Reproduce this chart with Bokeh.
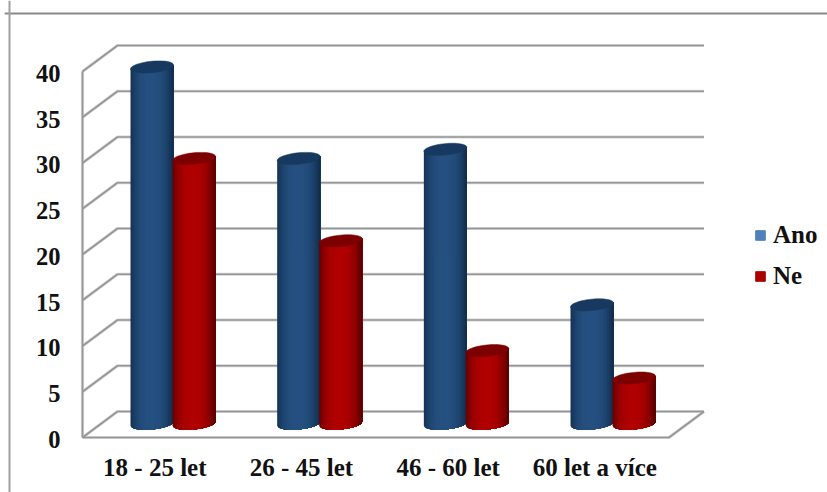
import numpy as np
from bokeh.plotting import figure
from bokeh.models import Range1d, FixedTicker, Span, Legend, LegendItem, ColumnDataSource
from bokeh.embed import file_html
from bokeh.resources import INLINE

# --- data
categories = ["18 - 25 let", "26 - 45 let", "46 - 60 let", "60 let a více"]
ano = [39, 29, 30, 13]
ne = [29, 20, 8, 5]
y_ticks = [0, 5, 10, 15, 20, 25, 30, 35, 40]

# --- layout: scale factors of the two axes
W, H = 827, 492
BL, BB = 4, 0
PX_X = 146.67       # pixels per category
PX_Y = 9.15         # pixels per value unit
x0 = -(172.5 - BL) / PX_X
y_bottom = -(H - BB - 437) / PX_Y
y_top = y_bottom + (H - BB) / PX_Y
x_end = x0 + (W - BL) / PX_X

FONT = "Liberation Serif"
p = figure(width=W, height=H, output_backend="svg", toolbar_location=None,
           x_range=Range1d(x0, x_end), y_range=Range1d(y_bottom, y_top),
           min_border_left=BL, min_border_right=0, min_border_top=0, min_border_bottom=BB,
           outline_line_color=None, background_fill_color="white", border_fill_color="white")
p.grid.visible = False

for ax in (p.xaxis[0], p.yaxis[0]):
    ax.axis_line_color = None
    ax.major_tick_line_color = None
    ax.minor_tick_line_color = None
    ax.major_tick_out = 0
    ax.major_tick_in = 0
    ax.minor_tick_out = 0
    ax.minor_tick_in = 0
    ax.major_label_text_font = FONT
    ax.major_label_text_font_style = "bold"
    ax.major_label_text_color = "#111111"

Y_LABEL_SHIFT = -0.2
y_label_ticks = [v + Y_LABEL_SHIFT for v in y_ticks]
p.yaxis[0].ticker = FixedTicker(ticks=y_label_ticks)
p.yaxis[0].major_label_overrides = {t: str(v) for t, v in zip(y_label_ticks, y_ticks)}
p.yaxis[0].major_label_text_font_size = "24.5px"
p.yaxis[0].major_label_standoff = BL - 60
X_LABEL_SHIFT = -0.124
x_ticks = [i + X_LABEL_SHIFT for i in range(len(categories))]
p.xaxis[0].ticker = FixedTicker(ticks=x_ticks)
p.xaxis[0].major_label_overrides = {t: c for t, c in zip(x_ticks, categories)}
p.xaxis[0].major_label_text_font_size = "25px"
p.xaxis[0].major_label_standoff = -39

# --- outer frame: its top and left sides only
FRAME_X = x0 + (9 - BL) / PX_X
FRAME_Y = y_top - 13 / PX_Y
p.add_layout(Span(location=FRAME_Y, dimension="width", line_color="#8a8a8a", line_width=2))
p.add_layout(Span(location=FRAME_X, dimension="height", line_color="#a0a0a0", line_width=2))

# --- 3D box
DX = 35 / PX_X
DY = 26 / PX_Y
FRONT_L = (82 - 172.5) / PX_X
FRONT_R = (668.5 - 172.5) / PX_X
BACK_L = FRONT_L + DX
BACK_R = FRONT_R + DX

wall_xs, wall_ys = [], []
for v in y_ticks:
    wall_xs.append([FRONT_L, BACK_L, BACK_R])
    wall_ys.append([v, v + DY, v + DY])
wall_xs += [[FRONT_L, FRONT_L], [FRONT_L, FRONT_R, BACK_R]]
wall_ys += [[y_ticks[0], y_ticks[-1]], [0, 0, DY]]
p.multi_line(wall_xs, wall_ys, line_color="#d6d6d6", line_width=3.2)
p.multi_line(wall_xs, wall_ys, line_color="#969696", line_width=1.6)


# --- cylinders
R = 21.5 / PX_X
B = 5.7 / PX_Y
TILT = 2.0 / PX_Y
LIFT = 1.5
N = 40


def mix(a, b, t):
    return "#%02x%02x%02x" % tuple(int(round(a[i] + (b[i] - a[i]) * t)) for i in range(3))


def cylinder(cx, val, dark, light, cap):
    edges = np.linspace(-1, 1, N + 1)
    xs, ys, cols = [], [], []
    for k in range(N):
        # every strip runs on to the right-hand side, so no seams show between strips
        u = np.linspace(edges[k], 1, 40)
        top = val + LIFT + TILT * u
        bot = LIFT + TILT * u - B * np.sqrt(np.clip(1 - u ** 2, 0, 1))
        xs.append(list(cx + R * u) + list(cx + R * u[::-1]))
        ys.append(list(top) + list(bot[::-1]))
        m = (edges[k] + edges[k + 1]) / 2
        t = np.clip(1 - abs(m + 0.05) ** 2.6, 0, 1)
        cols.append(mix(dark, light, t))
    src = ColumnDataSource(dict(xs=xs, ys=ys, c=cols))
    p.patches("xs", "ys", source=src, fill_color="c", line_color=None)
    th = np.linspace(0, 2 * np.pi, 60)
    capx = cx + R * np.cos(th)
    capy = val + LIFT + TILT * np.cos(th) + B * np.sin(th)
    p.patch(capx, capy, fill_color=cap, line_color=cap, line_width=0.5)


OFF = 21 / PX_X
BLUE = ((18, 46, 78), (37, 80, 128), "#17395f")
RED = ((92, 0, 0), (176, 0, 0), "#7d0000")
for i in range(len(categories)):
    cylinder(i - OFF, ano[i], *BLUE)
    cylinder(i + OFF, ne[i], *RED)

# --- legend
nan = float("nan")
k1 = p.quad(left=[nan], right=[nan], top=[nan], bottom=[nan], fill_color="#4f81bd", line_color="#4f81bd")
k2 = p.quad(left=[nan], right=[nan], top=[nan], bottom=[nan], fill_color="#aa0000", line_color="#aa0000")
legend = Legend(items=[LegendItem(label="Ano", renderers=[k1]), LegendItem(label="Ne", renderers=[k2])],
                location=(754 - BL, H - BB - 290), orientation="vertical",
                border_line_color=None, background_fill_alpha=0,
                glyph_width=12, glyph_height=12, label_standoff=7, spacing=13,
                padding=0, margin=0,
                label_text_font=FONT, label_text_font_style="bold",
                label_text_font_size="25px", label_text_color="#111111",
                label_height=20)
p.add_layout(legend)

open("out.html", "w").write(file_html(p, INLINE))
